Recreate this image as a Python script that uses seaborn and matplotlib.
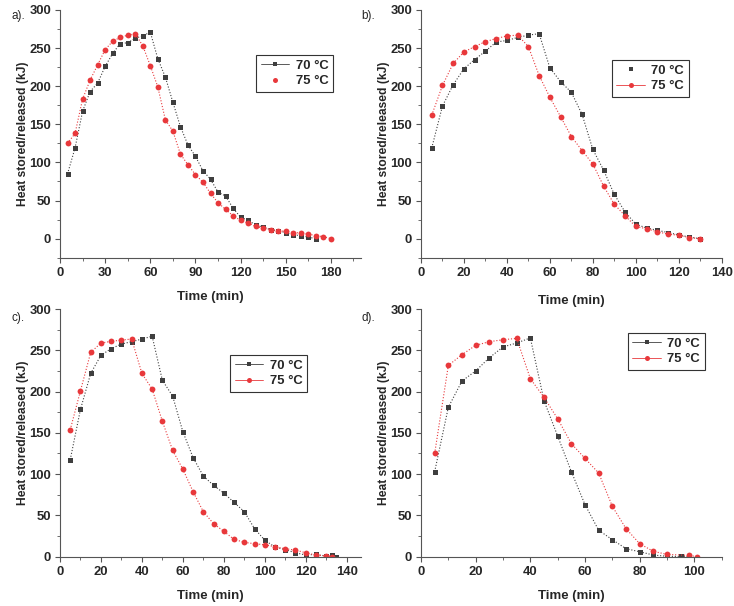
import numpy as np
import pandas as pd
import matplotlib
matplotlib.use("Agg")
import matplotlib.pyplot as plt
from matplotlib.lines import Line2D
from matplotlib.ticker import AutoMinorLocator, MultipleLocator
import seaborn as sns

# ---------------- data ----------------
# Panel a
a_t70 = [5, 10, 15, 20, 25, 30, 35, 40, 45, 50, 55, 60, 65, 70, 75, 80, 85, 90, 95, 100,
         105, 110, 115, 120, 125, 130, 135, 140, 145, 150, 155, 160, 165, 170]
a_v70 = [85, 119, 167, 193, 204, 226, 243, 256, 257, 263, 266, 271, 236, 212, 179, 147, 123, 108, 89, 78,
         61, 56, 40, 28, 24, 18, 15, 12, 10, 8, 5, 4, 2, 0]
a_t75 = [5, 10, 15, 20, 25, 30, 35, 40, 45, 50, 55, 60, 65, 70, 75, 80, 85, 90, 95, 100,
         105, 110, 115, 120, 125, 130, 135, 140, 145, 150, 155, 160, 165, 170, 175, 180]
a_v75 = [125, 138, 183, 208, 228, 248, 259, 264, 267, 269, 253, 227, 199, 156, 141, 111, 97, 84, 74, 59.5,
         47, 38.5, 30, 24, 20.5, 16, 14, 12, 10.5, 9.6, 8, 7.5, 6, 4, 2.6, 0]

# Panel b
b_t70 = [5, 10, 15, 20, 25, 30, 35, 40, 45, 50, 55, 60, 65, 70, 75, 80, 85, 90, 95, 100,
         105, 110, 115, 120, 125, 130]
b_v70 = [119, 174, 202, 223, 235, 246, 258, 260, 264, 267, 269, 224, 206, 192, 163, 117, 90, 58, 35, 19,
         14, 11, 8, 5, 2, 0]
b_t75 = [5, 10, 15, 20, 25, 30, 35, 40, 45, 50, 55, 60, 65, 70, 75, 80, 85, 90, 95, 100,
         105, 110, 115, 120, 125, 130]
b_v75 = [162, 201, 230, 245, 252, 258.5, 262.5, 266, 267, 252, 214, 185.5, 160, 134, 115.5, 98, 69, 45, 30, 16,
         13, 9, 6, 4.4, 1.3, 0]

# Panel c
c_t70 = [5, 10, 15, 20, 25, 30, 35, 40, 45, 50, 55, 60, 65, 70, 75, 80, 85, 90, 95, 100,
         105, 110, 115, 120, 125, 130, 133, 135]
c_v70 = [117.5, 178.5, 222, 244, 252, 257.6, 260.4, 263.6, 267, 213.6, 194.6, 151.4, 120, 97.7, 86.4, 77, 65.8, 54.5, 34, 20,
         11.7, 8.5, 4.8, 2, 2.8, 0.8, 1.6, 0]
c_t75 = [5, 10, 15, 20, 25, 30, 35, 40, 45, 50, 55, 60, 65, 70, 75, 80, 85, 90, 95, 100,
         105, 110, 115, 120, 125, 130, 133]
c_v75 = [153.8, 201, 247.5, 258.8, 260.8, 262.4, 263.6, 222, 203, 164, 128.8, 106, 78.7, 54.5, 40, 30.7, 21, 17.4, 15.7, 14.5,
         12, 9.7, 8, 4.8, 2, 0.8, 0]

# Panel d
d_t70 = [5, 10, 15, 20, 25, 30, 35, 40, 45, 50, 55, 60, 65, 70, 75, 80, 85, 90, 95, 98]
d_v70 = [103, 181, 212.8, 225, 241, 254, 258.8, 265, 189, 146, 103, 63, 32, 20.6, 9.7, 6, 2, 0.5, 0.3, 0.3]
d_t75 = [5, 10, 15, 20, 25, 30, 35, 40, 45, 50, 55, 60, 65, 70, 75, 80, 85, 90, 98, 101]
d_v75 = [125, 231.7, 244.7, 256, 260.4, 262.8, 264.4, 215.6, 193, 167, 137, 119, 101.3, 61, 34, 15.7, 6.5, 2.8, 1.6, 0]

series_labels = ["70 °C", "75 °C"]
panel_labels = ["a).", "b).", "c).", "d)."]
x_label = "Time (min)"
y_label = "Heat stored/released (kJ)"

# ---------------- style ----------------
sns.set_theme(style="ticks")
plt.rcParams["font.family"] = ["Liberation Sans", "DejaVu Sans"]
plt.rcParams["axes.labelweight"] = "bold"

GRAY = "#3f3f3f"
RED = "#e8383b"

fig = plt.figure(figsize=(7.34, 6.06), dpi=100)

panels = [
    dict(rect=[60/734, 1-257.7/606, 301/734, 247.7/606], xlim=(0, 200), ylim=(-25, 300), xmaj=30,
         t70=a_t70, v70=a_v70, t75=a_t75, v75=a_v75, leg=(0.651, 0.818), leg70line=True, leg75line=False,
         lab=(12, 16), xpad=9),
    dict(rect=[421/734, 1-257.7/606, 300.7/734, 247.7/606], xlim=(0, 140), ylim=(-25, 300), xmaj=20,
         t70=b_t70, v70=b_v70, t75=b_t75, v75=b_v75, leg=(0.634, 0.798), leg70line=False, leg75line=True,
         lab=(361, 16), xpad=12),
    dict(rect=[60/734, 1-556.7/606, 301/734, 247.7/606], xlim=(0, 147), ylim=(0, 300), xmaj=20,
         t70=c_t70, v70=c_v70, t75=c_t75, v75=c_v75, leg=(0.565, 0.814), leg70line=True, leg75line=True,
         lab=(12, 318), xpad=9),
    dict(rect=[421/734, 1-556.7/606, 300.7/734, 247.7/606], xlim=(0, 110), ylim=(0, 300), xmaj=20,
         t70=d_t70, v70=d_v70, t75=d_t75, v75=d_v75, leg=(0.687, 0.902), leg70line=True, leg75line=True,
         lab=(361, 318), xpad=9),
]

for p, plab in zip(panels, panel_labels):
    ax = fig.add_axes(p["rect"])
    df70 = pd.DataFrame({"t": p["t70"], "v": p["v70"]})
    df75 = pd.DataFrame({"t": p["t75"], "v": p["v75"]})
    sns.lineplot(data=df70, x="t", y="v", ax=ax, color=GRAY, linestyle=":", linewidth=0.8,
                 marker="s", markersize=3.6, markeredgewidth=0, markerfacecolor=GRAY,
                 legend=False, estimator=None, sort=False)
    sns.lineplot(data=df75, x="t", y="v", ax=ax, color=RED, linestyle=":", linewidth=0.8,
                 marker="o", markersize=4.2, markeredgewidth=0, markerfacecolor=RED,
                 legend=False, estimator=None, sort=False)
    ax.set_xlim(*p["xlim"])
    ax.set_ylim(*p["ylim"])
    ax.xaxis.set_major_locator(MultipleLocator(p["xmaj"]))
    ax.yaxis.set_major_locator(MultipleLocator(50))
    ax.xaxis.set_minor_locator(AutoMinorLocator(2))
    ax.yaxis.set_minor_locator(AutoMinorLocator(2))
    for s in ["top", "right"]:
        ax.spines[s].set_visible(False)
    for s in ["left", "bottom"]:
        ax.spines[s].set_color("#555555")
        ax.spines[s].set_linewidth(0.8)
    ax.tick_params(which="major", direction="out", length=3.5, width=0.8, color="#555555",
                   labelsize=9.4, pad=3)
    ax.tick_params(which="minor", direction="out", length=2, width=0.6, color="#555555")
    for lbl in ax.get_xticklabels() + ax.get_yticklabels():
        lbl.set_fontweight("bold")
    ax.set_xlabel(x_label, fontsize=9.5, fontweight="bold", labelpad=p["xpad"])
    ax.set_ylabel(y_label, fontsize=8.7, fontweight="bold", labelpad=0.5)

    h70 = Line2D([], [], color=GRAY, linestyle="-" if p["leg70line"] else "none", linewidth=0.6,
                 marker="s", markersize=3.2, markeredgewidth=0, markerfacecolor=GRAY)
    h75 = Line2D([], [], color=RED, linestyle="-" if p["leg75line"] else "none", linewidth=0.6,
                 marker="o", markersize=3.6, markeredgewidth=0, markerfacecolor=RED)
    leg = ax.legend([h70, h75], series_labels, loc="upper left", bbox_to_anchor=p["leg"],
                    frameon=True, fancybox=False, framealpha=1, edgecolor="#333333",
                    prop={"size": 9.4, "weight": "bold"}, handlelength=2.2, handletextpad=0.5,
                    borderpad=0.35, labelspacing=0.25, borderaxespad=0)
    leg.get_frame().set_linewidth(0.8)

    fig.text(p["lab"][0]/734, 1-p["lab"][1]/606, plab, fontsize=8.5, fontweight="normal",
             ha="left", va="center")

fig.savefig("out.png", dpi=100)
